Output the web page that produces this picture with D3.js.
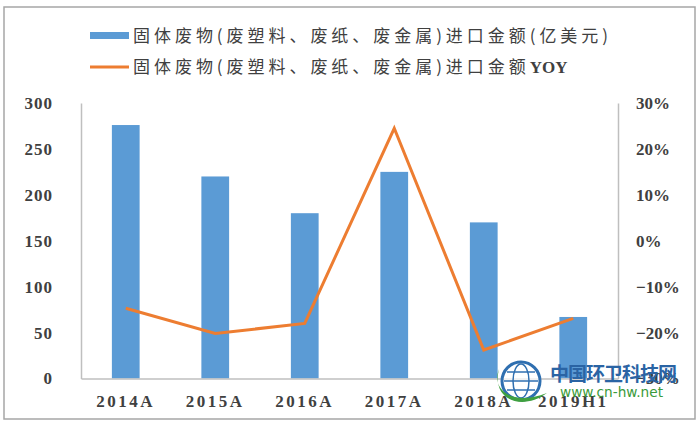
<!DOCTYPE html>
<html>
<head>
<meta charset="utf-8">
<script src="https://cdn.jsdelivr.net/npm/d3@7"></script>
<style>
  body { margin: 0; background: #fff; }
  svg { display: block; }
</style>
</head>
<body>
<div id="chart"></div>
<script>
// data
var categories = ["2014A", "2015A", "2016A", "2017A", "2018A", "2019H1"];
var importValue = [276, 220, 180, 225, 170, 67];          // 亿美元
var importYoy = [-0.147, -0.202, -0.180, 0.245, -0.238, -0.169];
var leftTicks = [0, 50, 100, 150, 200, 250, 300];
var rightTicks = [-0.3, -0.2, -0.1, 0, 0.1, 0.2, 0.3];
var legendLabels = [
  ["固体废物(废塑料、废纸、废金属)进口金额(亿美元)", ""],
  ["固体废物(废塑料、废纸、废金属)进口金额", "YOY"]
];

var svgWidth = 700;
var svgHeight = 425;

var margin = { top: 103, bottom: 46.5, left: 81, right: 82 };
var width = svgWidth - margin.left - margin.right;
var height = svgHeight - margin.top - margin.bottom;

var barColor = "#5b9bd5";
var lineColor = "#ed7d31";
var axisColor = "#bfbfbf";
var labelFont = "'Liberation Serif', 'DejaVu Serif', serif";
var cjkFont = "'Noto Sans CJK SC', sans-serif";

var svg = d3.select("#chart")
  .append("svg")
  .attr("width", svgWidth)
  .attr("height", svgHeight);

// outer frame
svg.append("rect")
  .attr("x", 4)
  .attr("y", 7)
  .attr("width", 691)
  .attr("height", 412)
  .attr("fill", "none")
  .attr("stroke", "#a6a6a6")
  .attr("stroke-width", 1.5);

var chartGroup = svg.append("g")
  .attr("transform", `translate(${margin.left}, ${margin.top})`);

// scales
var xScale = d3.scaleBand()
  .domain(categories)
  .range([0, width])
  .paddingInner(0.69)
  .paddingOuter(0.345);

var yLeft = d3.scaleLinear().domain([0, 300]).range([height, 0]);
var yRight = d3.scaleLinear().domain([-0.3, 0.3]).range([height, 0]);

// bars
chartGroup.selectAll(".bar")
  .data(categories)
  .enter()
  .append("rect")
  .attr("class", "bar")
  .attr("x", d => xScale(d))
  .attr("width", xScale.bandwidth())
  .attr("y", (d, i) => yLeft(importValue[i]))
  .attr("height", (d, i) => height - yLeft(importValue[i]))
  .attr("fill", barColor);

// axes
function styleAxis(g) {
  g.select(".domain").attr("stroke", axisColor).attr("stroke-width", 1.5);
  g.selectAll(".tick line").remove();
  g.selectAll("text")
    .attr("font-family", labelFont)
    .attr("font-size", "17px")
    .attr("font-weight", "bold")
    .attr("fill", "#404040");
}

chartGroup.append("g")
  .call(d3.axisLeft(yLeft).tickValues(leftTicks).tickSize(0).tickSizeOuter(0).tickPadding(28))
  .call(styleAxis)
  .selectAll("text").attr("letter-spacing", "1px");

chartGroup.append("g")
  .attr("transform", `translate(${width}, 0)`)
  .call(d3.axisRight(yRight).tickValues(rightTicks).tickFormat(d3.format(".0%")).tickSize(0).tickSizeOuter(0).tickPadding(18))
  .call(styleAxis);

var xAxisG = chartGroup.append("g")
  .attr("transform", `translate(0, ${height})`)
  .call(d3.axisBottom(xScale).tickSize(0).tickSizeOuter(0).tickPadding(16))
  .call(styleAxis);
xAxisG.selectAll("text").attr("letter-spacing", "2.5px");

// yoy line
var line = d3.line()
  .x((d, i) => xScale(categories[i]) + xScale.bandwidth() / 2)
  .y(d => yRight(d));

chartGroup.append("path")
  .datum(importYoy)
  .attr("d", line)
  .attr("fill", "none")
  .attr("stroke", lineColor)
  .attr("stroke-width", 3)
  .attr("stroke-linejoin", "miter");

// legend
var legend = svg.append("g").attr("transform", "translate(90, 0)");

legend.append("rect")
  .attr("x", 0)
  .attr("y", 32)
  .attr("width", 39)
  .attr("height", 7)
  .attr("fill", barColor);

legend.append("line")
  .attr("x1", 0)
  .attr("x2", 39)
  .attr("y1", 67)
  .attr("y2", 67)
  .attr("stroke", lineColor)
  .attr("stroke-width", 3);

var legendText = legend.selectAll(".legendText")
  .data(legendLabels)
  .enter()
  .append("text")
  .attr("class", "legendText")
  .attr("x", 43)
  .attr("y", (d, i) => 36 + i * 31)
  .attr("dy", "0.35em")
  .attr("font-family", cjkFont)
  .attr("font-size", "17px")
  .attr("fill", "#404040");

legendText.append("tspan").attr("class", "cjk").text(d => d[0]);
legendText.append("tspan")
  .attr("font-family", labelFont)
  .attr("font-weight", "bold")
  .text(d => d[1]);

// spread the first legend line to the reference width, same spacing on the second
var firstNode = legendText.nodes()[0];
var naturalWidth = firstNode.getComputedTextLength();
var chars = legendLabels[0][0].length;
var spacing = (479 - naturalWidth) / chars;
legendText.selectAll(".cjk").attr("letter-spacing", spacing + "px");

// watermark
var mark = svg.append("g").attr("transform", "translate(521, 381)");
mark.append("circle")
  .attr("r", 19)
  .attr("fill", "rgba(255,255,255,0.7)")
  .attr("stroke", "#2f6fb0")
  .attr("stroke-width", 3);
mark.append("ellipse").attr("rx", 8).attr("ry", 17).attr("fill", "none").attr("stroke", "#2f6fb0").attr("stroke-width", 1.5);
mark.append("line").attr("x1", -17).attr("x2", 17).attr("stroke", "#2f6fb0").attr("stroke-width", 1.5);
mark.append("line").attr("x1", -14).attr("x2", 14).attr("y1", -9).attr("y2", -9).attr("stroke", "#2f6fb0").attr("stroke-width", 1.5);
mark.append("line").attr("x1", -14).attr("x2", 14).attr("y1", 9).attr("y2", 9).attr("stroke", "#2f6fb0").attr("stroke-width", 1.5);
mark.append("path")
  .attr("d", "M-22,-12 C-30,8 -10,26 26,12 C2,30 -30,20 -22,-12 Z")
  .attr("fill", "#3fa040");

svg.append("text")
  .attr("x", 550)
  .attr("y", 381)
  .attr("font-family", cjkFont)
  .attr("font-size", "19px")
  .attr("font-weight", "bold")
  .attr("fill", "#2a64a4")
  .attr("textLength", 127)
  .attr("lengthAdjust", "spacing")
  .text("中国环卫科技网");

svg.append("text")
  .attr("x", 560)
  .attr("y", 397)
  .attr("font-family", "'DejaVu Sans', sans-serif")
  .attr("font-size", "14px")
  .attr("fill", "#3a9a3a")
  .attr("textLength", 103)
  .attr("lengthAdjust", "spacingAndGlyphs")
  .text("www.cn-hw.net");
</script>
</body>
</html>
